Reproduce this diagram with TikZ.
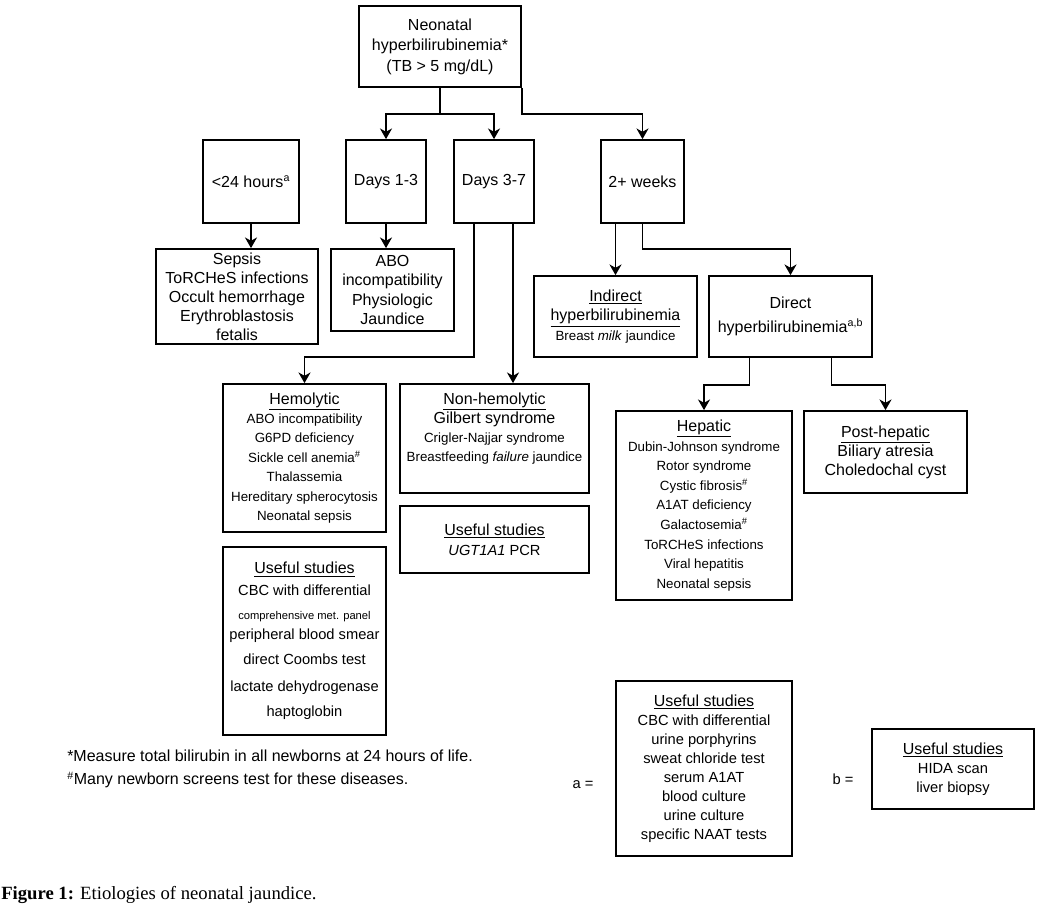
\documentclass[tikz,border=0pt]{standalone}
\usepackage{fontspec}
\setmainfont{Liberation Sans}
\newfontfamily\capfont{Liberation Serif}
\usepackage{tikz}
\usetikzlibrary{arrows.meta, positioning, calc}
\newcommand{\fs}[1]{\fontsize{#1}{14.5}\selectfont}
\newcommand{\hd}[1]{{\fs{12}\underline{#1}}}

\begin{document}
\begin{tikzpicture}[x=0.75pt, y=-0.75pt,
  box/.style={draw, line width=1.3pt, inner sep=0pt, align=center, font=\fs{12}},
  wh/.style 2 args={minimum width=#1*0.75pt, minimum height=#2*0.75pt},
  arr/.style={line width=1.3pt, -{Stealth[length=8pt, width=9pt, inset=2.5pt]}},
  note/.style={anchor=west, inner sep=0pt, font=\fs{12}}]
  \useasboundingbox (0,0) rectangle (1051,908);

  % top and age groups
  \node[box, wh={162}{81}, font=\fontsize{12}{15.4}\selectfont] (top) at (440,46.5) {Neonatal\\hyperbilirubinemia*\\(TB > 5 mg/dL)};
  \node[box, wh={96}{83}] (h24) at (251,181.5) {<24 hours\textsuperscript{a}};
  \node[box, wh={80}{83}] (d13) at (386,181.5) {Days 1-3};
  \node[box, wh={80}{83}] (d37) at (494,181.5) {Days 3-7};
  \node[box, wh={83}{83}] (w2) at (642.5,181.5) {2+ weeks};

  % causes
  \node[box, wh={162}{95}, font=\fontsize{12}{14.25}\selectfont] (sep) at (237,296.5) {Sepsis\\ToRCHeS infections\\Occult hemorrhage\\Erythroblastosis\\fetalis};
  \node[box, wh={123}{82}] (abo) at (392.5,290) {ABO\\incompatibility\\Physiologic\\Jaundice};
  \node[box, wh={163}{81}, font=\fontsize{10}{14.6}\selectfont] (ind) at (615.5,316.5) {\hd{Indirect}\\\hd{hyperbilirubinemia}\\Breast \textit{milk} jaundice};
  \node[box, wh={163}{81}] (dir) at (790.5,316.5) {Direct\\[3.5pt]hyperbilirubinemia\textsuperscript{a,b}};

  \node[box, wh={163}{148}, font=\fontsize{10}{14.6}\selectfont] (hemo) at (304.5,458) {\hd{Hemolytic}\\ABO incompatibility\\G6PD deficiency\\Sickle cell anemia\textsuperscript{\#}\\Thalassemia\\Hereditary spherocytosis\\Neonatal sepsis};
  \node[box, wh={189}{109}] (nonh) at (494.5,438.5) {};
  \node[below=7pt of nonh.north, align=center, inner sep=0pt, font=\fontsize{10}{14.25}\selectfont] (nonh-t) {\hd{Non-hemolytic}\\{\fs{12}Gilbert syndrome}\\Crigler-Najjar syndrome\\Breastfeeding \textit{failure} jaundice};
  \node[box, wh={189}{67}, font=\fontsize{11}{15}\selectfont] (ugt) at (494.5,539.5) {\hd{Useful studies}\\\textit{UGT1A1} PCR};
  \node[box, wh={163}{188}, font=\fontsize{11}{14.5}\selectfont] (hstud) at (304.5,641) {\hd{Useful studies}\\[2pt]CBC with differential\\[3.5pt]{\fs{8.4}comprehensive met. panel}\\[0.5pt]peripheral blood smear\\[4.25pt]direct Coombs test\\[5.75pt]lactate dehydrogenase\\[4.25pt]haptoglobin};

  \node[box, wh={176}{189}, font=\fontsize{10}{14.7}\selectfont] (hep) at (704,505.5) {\hd{Hepatic}\\Dubin-Johnson syndrome\\Rotor syndrome\\Cystic fibrosis\textsuperscript{\#}\\A1AT deficiency\\Galactosemia\textsuperscript{\#}\\ToRCHeS infections\\Viral hepatitis\\Neonatal sepsis};
  \node[box, wh={163}{82}, font=\fontsize{12}{14.25}\selectfont] (post) at (885.5,452) {\hd{Post-hepatic}\\Biliary atresia\\Choledochal cyst};

  % useful studies for a and b
  \node[box, wh={176}{175}, font=\fontsize{11}{14.25}\selectfont] (astud) at (704,768.5) {\hd{Useful studies}\\CBC with differential\\urine porphyrins\\sweat chloride test\\serum A1AT\\blood culture\\urine culture\\specific NAAT tests};
  \node[box, wh={162}{80}, font=\fontsize{11}{14.25}\selectfont] (bstud) at (953,769) {\hd{Useful studies}\\HIDA scan\\liver biopsy};
  \node[font=\fs{11}, inner sep=0pt] (alab) at (583,785) {a =};
  \node[font=\fs{11}, inner sep=0pt] (blab) at (843,779) {b =};

  % notes
  \node[note] (foot1) at (67,756) {*Measure total bilirubin in all newborns at 24 hours of life.};
  \node[note] (foot2) at (67,780) {\textsuperscript{\#}Many newborn screens test for these diseases.};
  \node[anchor=west, inner sep=0pt, font=\capfont\fontsize{14}{16}\selectfont] (cap) at (1,895) {\textbf{Figure 1:} Etiologies of neonatal jaundice.};

  % connectors
  \draw[arr] (top.south) -- ++(0,26) -| (d13.north);
  \draw[arr] (top.south) -- ++(0,26) -| (d37.north);
  \draw[arr] (top.south east) -- ++(0,26) -| (w2.north);
  \draw[arr] (h24) -- (h24 |- sep.north);
  \draw[arr] (d13) -- (d13 |- abo.north);
  \coordinate (d37l) at ($(d37.south)+(-20,0)$);
  \coordinate (d37r) at ($(d37.south)+(19,0)$);
  \draw[arr] (d37l) -- ++(0,133) -| (hemo.north);
  \draw[arr] (d37r) -- (d37r |- nonh.north);
  \draw[arr] (w2.south -| ind.north) -- (ind.north);
  \draw[arr] (w2.south) -- ++(0,25) -| (dir.north);
  \coordinate (dirl) at ($(dir.south)+(-41,0)$);
  \coordinate (dirr) at ($(dir.south)+(41,0)$);
  \draw[arr] (dirl) -- ++(0,27) -| (hep.north);
  \draw[arr] (dirr) -- ++(0,27) -| (post.north);
\end{tikzpicture}
\end{document}
